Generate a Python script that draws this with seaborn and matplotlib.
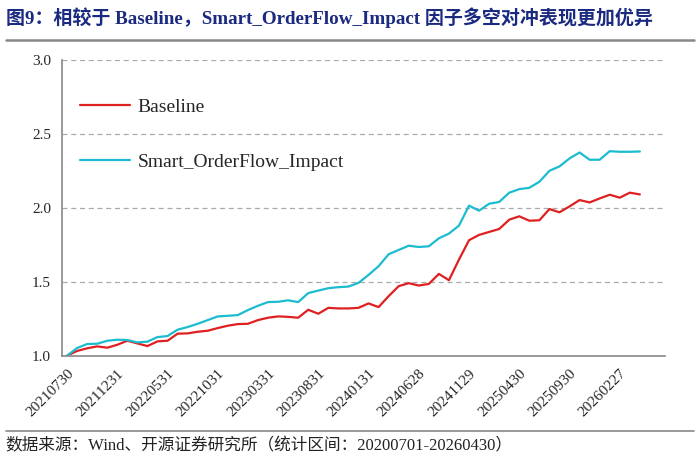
import numpy as np
import pandas as pd
import matplotlib
matplotlib.use('Agg')
import matplotlib.pyplot as plt
import seaborn as sns
from matplotlib.lines import Line2D

# month-end dates (one point per month)
dates = ['20210730', '20210831', '20210930', '20211029', '20211130', '20211231',
         '20220128', '20220228', '20220331', '20220429', '20220531', '20220630',
         '20220729', '20220831', '20220930', '20221031', '20221130', '20221230',
         '20230131', '20230228', '20230331', '20230428', '20230531', '20230630',
         '20230731', '20230831', '20230928', '20231031', '20231130', '20231229',
         '20240131', '20240229', '20240329', '20240430', '20240531', '20240628',
         '20240731', '20240830', '20240930', '20241031', '20241129', '20241231',
         '20250127', '20250228', '20250331', '20250430', '20250530', '20250630',
         '20250731', '20250829', '20250930', '20251031', '20251128', '20251231',
         '20260130', '20260227', '20260331', '20260430']

baseline = [1.000, 1.032, 1.050, 1.063, 1.054, 1.074, 1.101, 1.083, 1.065, 1.097,
            1.101, 1.149, 1.151, 1.162, 1.169, 1.187, 1.203, 1.214, 1.216, 1.241,
            1.257, 1.266, 1.263, 1.257, 1.311, 1.284, 1.324, 1.320, 1.320, 1.324,
            1.354, 1.329, 1.403, 1.471, 1.491, 1.475, 1.486, 1.554, 1.511, 1.651,
            1.782, 1.818, 1.838, 1.858, 1.921, 1.944, 1.914, 1.917, 1.993, 1.971,
            2.011, 2.054, 2.038, 2.065, 2.090, 2.070, 2.104, 2.092]

impact = [1.000, 1.052, 1.079, 1.081, 1.101, 1.108, 1.106, 1.090, 1.095, 1.126,
          1.133, 1.176, 1.194, 1.216, 1.241, 1.266, 1.270, 1.275, 1.309, 1.338,
          1.363, 1.365, 1.375, 1.363, 1.424, 1.441, 1.457, 1.464, 1.468, 1.493,
          1.547, 1.606, 1.687, 1.716, 1.745, 1.736, 1.741, 1.795, 1.827, 1.881,
          2.016, 1.982, 2.029, 2.041, 2.104, 2.128, 2.137, 2.178, 2.252, 2.282,
          2.336, 2.376, 2.327, 2.327, 2.385, 2.381, 2.381, 2.383]

series_names = ['Baseline', 'Smart_OrderFlow_Impact']
colors = ['#E02020', '#1CBCD0']
title = '图9：相较于 Baseline，Smart_OrderFlow_Impact 因子多空对冲表现更加优异'
source = '数据来源：Wind、开源证券研究所（统计区间：20200701-20260430）'

n = len(dates)
df = pd.DataFrame({
    'idx': list(range(n)) * 2,
    'value': baseline + impact,
    'series': [series_names[0]] * n + [series_names[1]] * n,
})

sns.set_theme(style='white')
serif = ['Liberation Serif', 'Noto Sans CJK SC']
plt.rcParams['font.family'] = serif

fig = plt.figure(figsize=(7, 4.68), dpi=100)
ax = fig.add_axes([0.0886, 0.240, 0.8614, 0.631])

sns.lineplot(data=df, x='idx', y='value', hue='series', palette=colors,
             linewidth=1.6, ax=ax, legend=False)

ax.set_xlim(-0.5, n - 0.5)
ax.set_ylim(1.0, 3.0)
ax.set_yticks([1.0, 1.5, 2.0, 2.5, 3.0])
ax.set_yticklabels(['1.0', '1.5', '2.0', '2.5', '3.0'], fontsize=11)
ax.yaxis.grid(True, linestyle=(0, (4, 3)), color='#AAAAAA', linewidth=0.9)
ax.xaxis.grid(False)

# labels at every 5th month, tick marks on the boundaries
lab_pos = list(range(0, n, 5))[:12]
ax.set_xticks(lab_pos)
ax.set_xticklabels([dates[i] for i in lab_pos], rotation=45, ha='right',
                   rotation_mode='anchor', fontsize=11)
ax.tick_params(axis='x', which='major', length=0, pad=8)
ax.set_xticks([p + 4.5 for p in lab_pos], minor=True)
ax.tick_params(axis='x', which='minor', direction='in', length=4,
               width=0.9, color='#888888')
ax.tick_params(axis='y', length=0, pad=8)
ax.set_xlabel('')
ax.set_ylabel('')

for s in ['top', 'right']:
    ax.spines[s].set_visible(False)
for s in ['left', 'bottom']:
    ax.spines[s].set_color('#888888')
    ax.spines[s].set_linewidth(1.2)

handles = [Line2D([0], [0], color=c, lw=1.6) for c in colors]
ax.legend(handles, series_names, loc='upper left', bbox_to_anchor=(0.0, 0.93),
          frameon=False, fontsize=14, labelspacing=1.9, handlelength=2.6,
          handletextpad=0.4)

fig.text(0.008, 0.962, title, fontsize=13.7, fontweight='bold', color='#1A2A80',
         va='center', ha='left')
fig.add_artist(Line2D([0.008, 0.992], [0.914, 0.914], color='#888888', lw=1.8))
fig.add_artist(Line2D([0.008, 0.992], [0.080, 0.080], color='#888888', lw=1.2))
fig.text(0.008, 0.047, source, fontsize=12, color='#222222', va='center', ha='left')

fig.savefig('out.png', dpi=100)
